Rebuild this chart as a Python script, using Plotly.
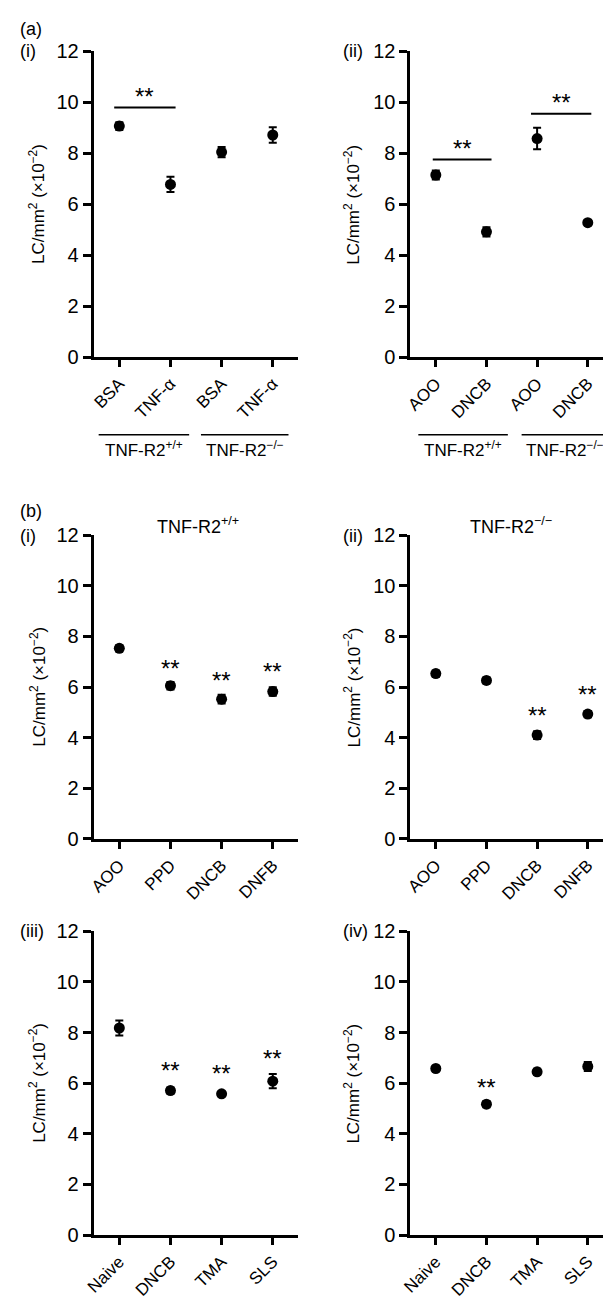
import plotly.graph_objects as go

W, H = 611, 1300

# ---- data ----
a1_labels = ["BSA", "TNF-α", "BSA", "TNF-α"]
a1_vals = [9.07, 6.78, 8.05, 8.72]
a1_err = [0.15, 0.3, 0.2, 0.3]

a2_labels = ["AOO", "DNCB", "AOO", "DNCB"]
a2_vals = [7.15, 4.92, 8.58, 5.28]
a2_err = [0.18, 0.18, 0.42, 0.1]

b1_labels = ["AOO", "PPD", "DNCB", "DNFB"]
b1_vals = [7.53, 6.05, 5.52, 5.82]
b1_err = [0.12, 0.15, 0.17, 0.17]
b1_sig = [None, 6.72, 6.25, 6.62]

b2_labels = ["AOO", "PPD", "DNCB", "DNFB"]
b2_vals = [6.53, 6.26, 4.1, 4.93]
b2_err = [0.12, 0.12, 0.15, 0.12]
b2_sig = [None, None, 4.88, 5.7]

b3_labels = ["Naive", "DNCB", "TMA", "SLS"]
b3_vals = [8.18, 5.71, 5.58, 6.08]
b3_err = [0.3, 0.12, 0.08, 0.28]
b3_sig = [None, 6.5, 6.4, 6.97]

b4_labels = ["Naive", "DNCB", "TMA", "SLS"]
b4_vals = [6.58, 5.17, 6.45, 6.66]
b4_err = [0.08, 0.12, 0.12, 0.18]
b4_sig = [None, 5.82, None, None]

y_ticks = [0, 2, 4, 6, 8, 10, 12]

FONT = "Liberation Sans, Arial, Helvetica, sans-serif"

# panel geometry in pixels: (x0, x1, ytop(12), ybottom(0))
panels = [
    (a1_labels, a1_vals, a1_err, (77, 285, 33, 344)),
    (a2_labels, a2_vals, a2_err, (399, 605, 33, 344)),
    (b1_labels, b1_vals, b1_err, (77, 285, 525, 834)),
    (b2_labels, b2_vals, b2_err, (399, 605, 525, 834)),
    (b3_labels, b3_vals, b3_err, (77, 285, 928, 1237)),
    (b4_labels, b4_vals, b4_err, (399, 605, 928, 1237)),
]

fig = go.Figure()
layout = dict(
    width=W, height=H, margin=dict(l=0, r=0, t=0, b=0),
    paper_bgcolor="white", plot_bgcolor="white", showlegend=False,
    font=dict(family=FONT, color="black"),
)
annotations = []
shapes = []

for i, (labels, vals, errs, (px0, px1, pyt, pyb)) in enumerate(panels):
    n = i + 1
    xs = list(range(len(labels)))
    xname = "x" if n == 1 else f"x{n}"
    yname = "y" if n == 1 else f"y{n}"
    fig.add_trace(go.Scatter(
        x=xs, y=vals, mode="markers", xaxis=xname, yaxis=yname,
        marker=dict(symbol="circle", size=11, color="black"),
        error_y=dict(type="data", array=errs, visible=True, color="black",
                     thickness=2, width=4),
        cliponaxis=False,
    ))
    xk = "xaxis" if n == 1 else f"xaxis{n}"
    yk = "yaxis" if n == 1 else f"yaxis{n}"
    layout[xk] = dict(
        domain=[px0 / W, px1 / W], anchor=yname, range=[-0.5, len(labels) - 0.5],
        tickvals=xs, ticktext=labels, tickangle=-45,
        showline=True, linewidth=3, linecolor="black", mirror=False,
        ticks="outside", ticklen=7, tickwidth=3, tickcolor="black",
        showgrid=False, zeroline=False, fixedrange=True,
        tickfont=dict(family=FONT, size=17, color="black"),
    )
    layout[yk] = dict(
        domain=[1 - pyb / H, 1 - pyt / H], anchor=xname, range=[0, 12],
        tickvals=y_ticks, ticktext=[str(t) for t in y_ticks],
        showline=True, linewidth=3, linecolor="black",
        ticks="outside", ticklen=8, tickwidth=3, tickcolor="black",
        showgrid=False, zeroline=False, fixedrange=True,
        tickfont=dict(family=FONT, size=20, color="black"),
    )
    # y axis title
    tx = 20 if px0 < 300 else 340
    annotations.append(dict(
        text="LC/mm<sup>2</sup> (×10<sup>−2</sup>)", textangle=-90,
        x=tx / W, y=1 - ((pyt + pyb) / 2) / H, xref="paper", yref="paper",
        showarrow=False, font=dict(family=FONT, size=17, color="black"),
        xanchor="center", yanchor="middle",
    ))

# significance stars for b panels
for n, sig in [(3, b1_sig), (4, b2_sig), (5, b3_sig), (6, b4_sig)]:
    for xi, s in enumerate(sig):
        if s is not None:
            annotations.append(dict(
                text="**", x=xi, y=s, xref=f"x{n}", yref=f"y{n}",
                showarrow=False, font=dict(family=FONT, size=24, color="black"),
                yanchor="middle",
            ))

# significance brackets for a panels
brackets = [
    ("x", "y", -0.1, 1.1, 9.8, 10.25),
    ("x2", "y2", -0.06, 1.1, 7.76, 8.2),
    ("x2", "y2", 1.88, 3.07, 9.55, 10.0),
]
for xr, yr, x0, x1, yl, ys in brackets:
    shapes.append(dict(type="line", xref=xr, yref=yr, x0=x0, x1=x1, y0=yl, y1=yl,
                       line=dict(color="black", width=2)))
    annotations.append(dict(text="**", x=(x0 + x1) / 2, y=ys, xref=xr, yref=yr,
                            showarrow=False, font=dict(family=FONT, size=24, color="black"),
                            yanchor="middle"))

# group labels under (a) panels
groups = [
    (82, 174, "TNF-R2<sup>+/+</sup>"),
    (186, 275, "TNF-R2<sup>−/−</sup>"),
    (407, 498, "TNF-R2<sup>+/+</sup>"),
    (512, 601, "TNF-R2<sup>−/−</sup>"),
]
for gx0, gx1, txt in groups:
    shapes.append(dict(type="line", xref="paper", yref="paper",
                       x0=gx0 / W, x1=gx1 / W, y0=1 - 423 / H, y1=1 - 423 / H,
                       line=dict(color="black", width=1.5)))
    annotations.append(dict(text=txt, x=(gx0 + gx1) / 2 / W, y=1 - 437 / H,
                            xref="paper", yref="paper", showarrow=False,
                            font=dict(family=FONT, size=17, color="black"),
                            xanchor="center", yanchor="middle"))

# panel headings in (b)
for cx, txt in [(183, "TNF-R2<sup>+/+</sup>"), (501, "TNF-R2<sup>−/−</sup>")]:
    annotations.append(dict(text=txt, x=cx / W, y=1 - 515 / H, xref="paper", yref="paper",
                            showarrow=False, font=dict(family=FONT, size=18, color="black"),
                            xanchor="center", yanchor="middle"))

# panel letters
letters = [
    (0, 10, "(a)"), (0, 33, "(i)"), (328, 33, "(ii)"),
    (0, 500, "(b)"), (0, 526, "(i)"), (328, 526, "(ii)"),
    (0, 928, "(iii)"), (328, 928, "(iv)"),
]
for lx, ly, txt in letters:
    annotations.append(dict(text=txt, x=lx / W, y=1 - ly / H, xref="paper", yref="paper",
                            showarrow=False, font=dict(family=FONT, size=18, color="black"),
                            xanchor="left", yanchor="middle"))

layout["annotations"] = annotations
layout["shapes"] = shapes
fig.update_layout(**layout)
fig.write_html("out.html")
